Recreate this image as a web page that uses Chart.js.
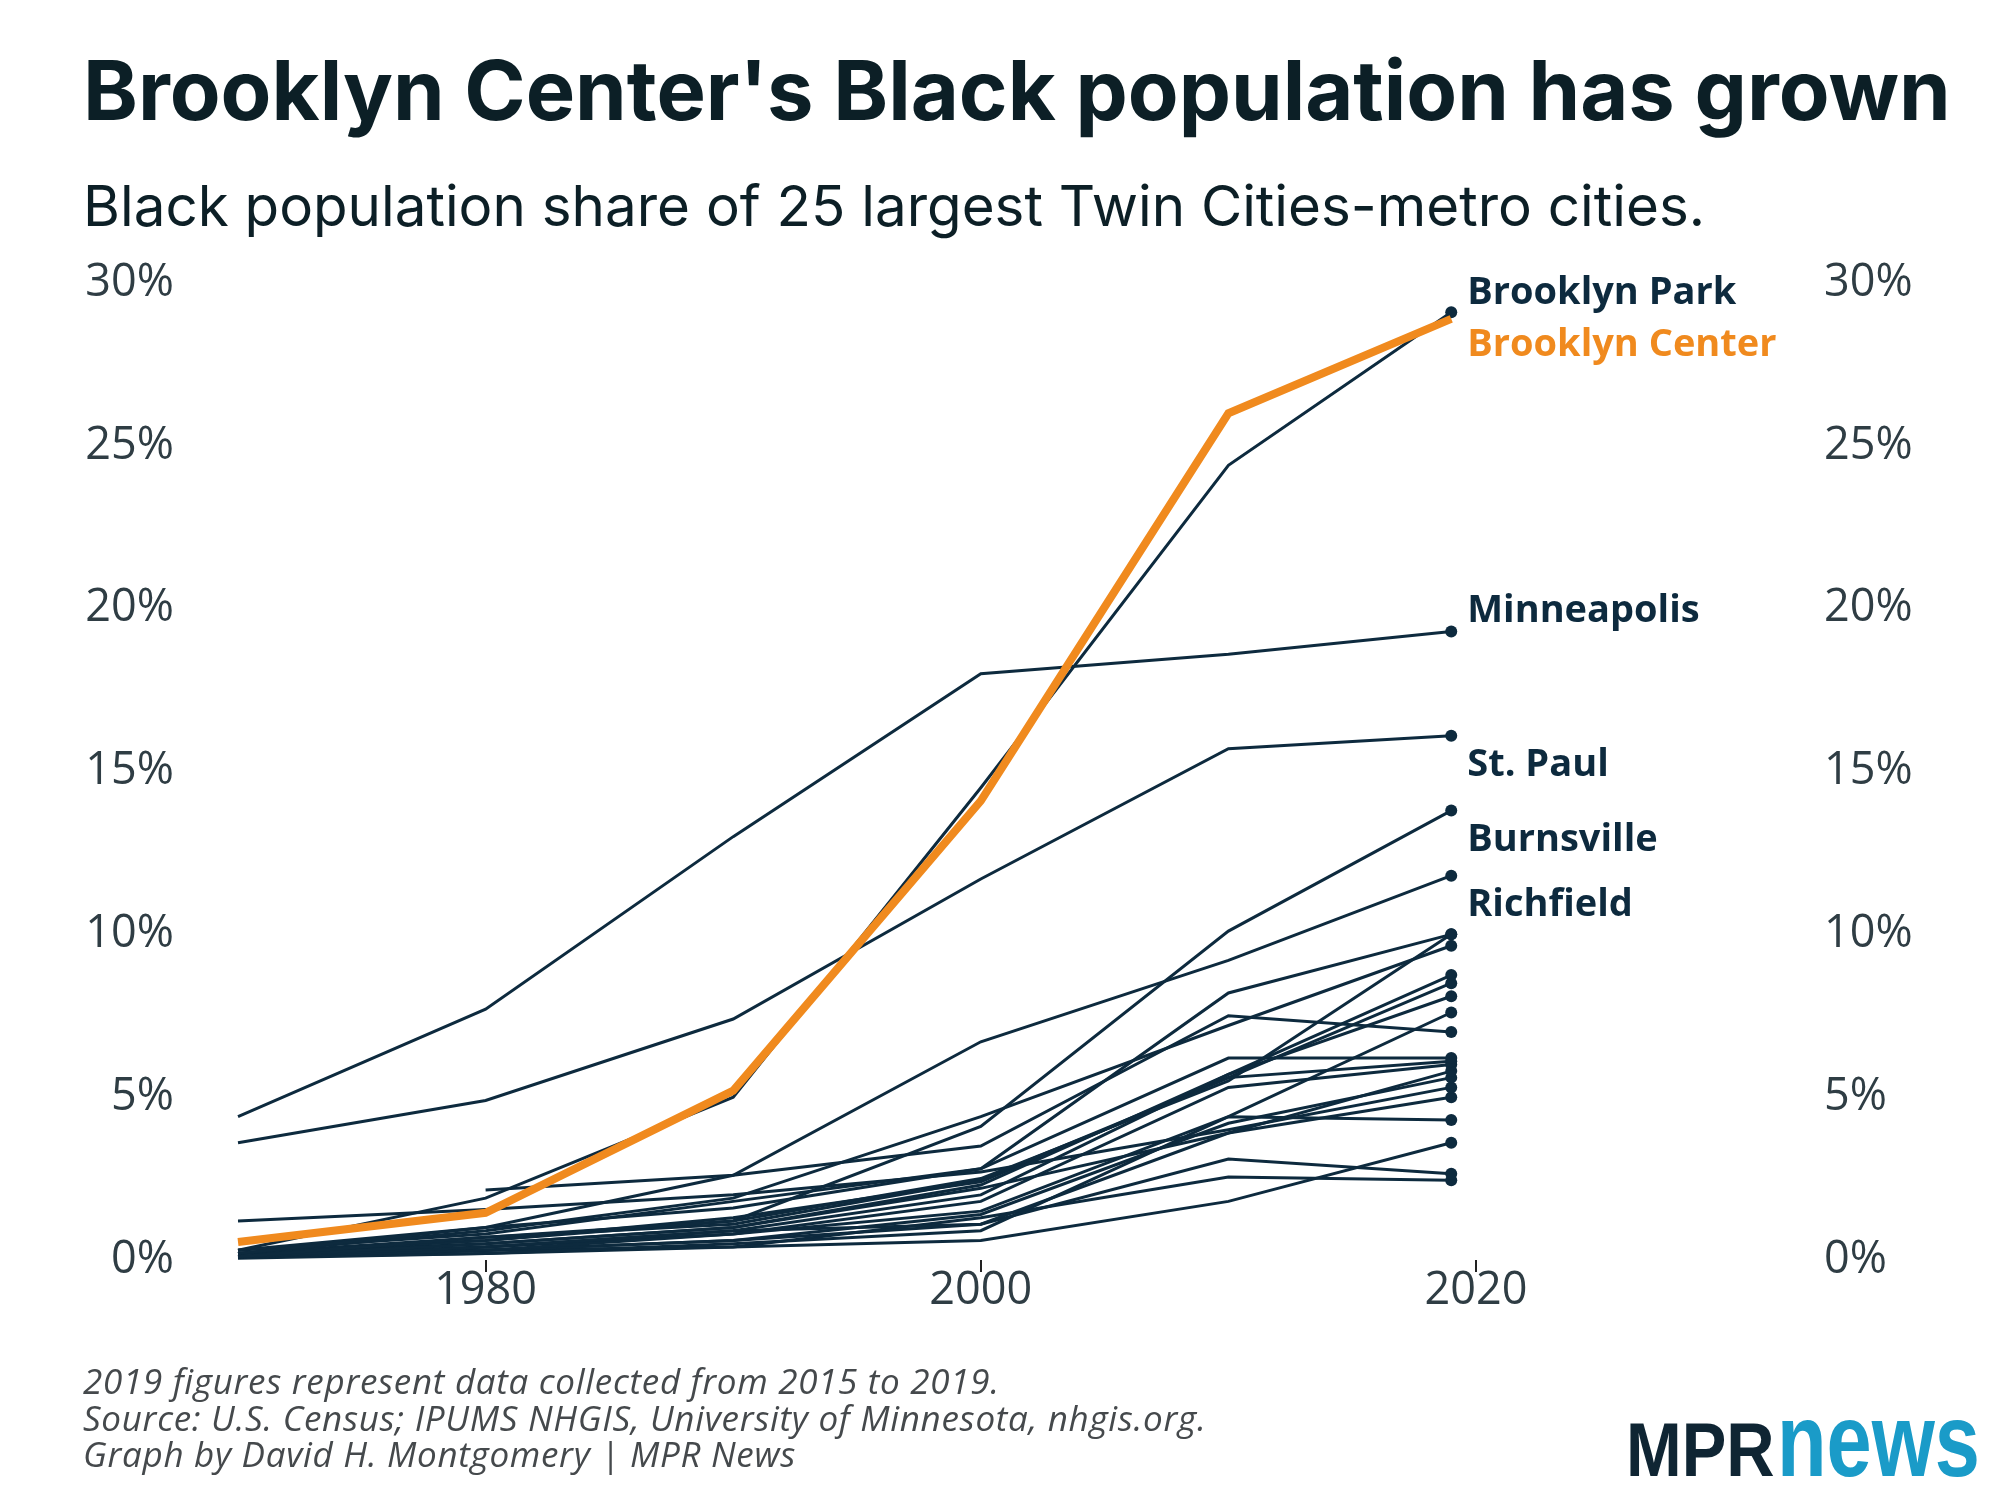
<!DOCTYPE html>
<html>
<head>
<meta charset="utf-8">
<script src="https://cdn.jsdelivr.net/npm/chart.js@4"></script>
<style>
  body { margin: 0; background: #fff; }
  #wrap { position: relative; width: 2000px; height: 1500px; overflow: hidden; }
  #graph { position: absolute; left: 0; top: 0; }
  .txt { position: absolute; white-space: nowrap; line-height: 1; }
  #title { left: 83px; top: 40px; font: 700 83px Inter; color: #0c1f26; }
  #subtitle { left: 83px; top: 171px; font: 400 56.5px Inter; color: #0c1f26; }
  #notes { left: 83px; top: 1363px; font: italic 400 35px "Open Sans"; letter-spacing: 0.7px; color: #45494c; line-height: 36.5px; }
  .logo { font-family: "Liberation Sans"; font-weight: 700; transform-origin: left top; }
  #mpr { left: 1626px; top: 1412px; font-size: 76px; color: #0f2533; transform: scaleX(0.88); }
  #news { left: 1777px; top: 1388px; font-size: 104px; color: #1a9bc8; transform: scaleX(0.78); }
</style>
</head>
<body>
<div id="wrap">
  <canvas id="graph" width="2000" height="1500"></canvas>
  <div class="txt" id="title">Brooklyn Center's Black population has grown</div>
  <div class="txt" id="subtitle">Black population share of 25 largest Twin Cities-metro cities.</div>
  <div class="txt" id="notes">2019 figures represent data collected from 2015 to 2019.<br>Source: U.S. Census; IPUMS NHGIS, University of Minnesota, nhgis.org.<br>Graph by David H. Montgomery | MPR News</div>
  <div class="txt logo" id="mpr">MPR</div>
  <div class="txt logo" id="news">news</div>
</div>
<script>
/* data: Black population share (%) by census year */
var years = [1970, 1980, 1990, 2000, 2010, 2019];

var brooklynCenter = [0.55, 1.45, 5.2, 14.1, 26.0, 28.9];
var brooklynPark   = [0.3, 1.9, 5.0, 14.5, 24.4, 29.1];
var minneapolis    = [4.4, 7.7, 13.0, 18.0, 18.6, 19.3];
var stPaul         = [3.6, 4.9, 7.4, 11.7, 15.7, 16.1];
var burnsville     = [0.1, 0.7, 1.2, 4.1, 10.1, 13.8];
var richfield      = [0.2, 1.0, 2.6, 6.7, 9.2, 11.8];

// the other 19 cities, not labelled in the graphic
var otherCities = [
    [0.2, 0.9, 1.9, 4.4, 7.2, 9.65],
    [0.3, 1.0, 1.6, 2.8, 8.2, 10.0],
    [0.2, 0.6, 1.2, 2.5, 5.5, 10.0],
    [0.1, 0.5, 1.0, 2.3, 5.7, 8.75],
    [0.2, 0.7, 1.1, 2.45, 5.6, 8.5],
    [0.1, 0.4, 0.9, 2.0, 5.7, 8.1],
    [0.1, 0.3, 0.8, 1.5, 4.4, 7.6],
    [null, 2.15, 2.6, 3.5, 7.5, 7.0],
    [0.3, 0.8, 1.8, 2.8, 6.2, 6.2],
    [0.2, 0.6, 1.3, 2.4, 5.6, 6.1],
    [0.1, 0.4, 0.8, 1.8, 5.3, 6.0],
    [0.2, 0.5, 1.0, 2.2, 3.9, 5.8],
    [0.1, 0.3, 0.6, 1.4, 4.2, 5.6],
    [1.2, 1.55, 2.0, 2.7, 4.0, 5.3],
    [0.1, 0.4, 0.9, 1.1, 3.9, 5.0],
    [0.05, 0.2, 0.5, 0.9, 4.4, 4.3],
    [0.1, 0.3, 0.4, 0.6, 1.8, 3.6],
    [0.1, 0.3, 0.6, 1.1, 3.1, 2.65],
    [0.1, 0.2, 0.4, 1.3, 2.55, 2.45]
];

var xTicks = [1980, 2000, 2020];
var yTicks = [0, 5, 10, 15, 20, 25, 30];

var NAVY = '#0d2a3e';
var ORANGE = '#f08a1e';
var TICKCOL = '#2f3d44';

function points(vals) {
    return years.map(function (yr, i) { return { x: yr, y: vals[i] }; });
}

function navyLine(label, vals) {
    return {
        label: label,
        data: points(vals),
        borderColor: NAVY,
        backgroundColor: NAVY,
        borderWidth: 3,
        pointRadius: function (c) { return c.dataIndex === years.length - 1 ? 6 : 0; },
        pointBorderWidth: 0,
        tension: 0,
        clip: false
    };
}

var datasets = [{
    label: 'Brooklyn Center',
    data: points(brooklynCenter),
    borderColor: ORANGE,
    borderWidth: 8,
    pointRadius: 0,
    tension: 0,
    clip: false
}];
datasets.push(navyLine('Brooklyn Park', brooklynPark));
datasets.push(navyLine('Minneapolis', minneapolis));
datasets.push(navyLine('St. Paul', stPaul));
datasets.push(navyLine('Burnsville', burnsville));
datasets.push(navyLine('Richfield', richfield));
otherCities.forEach(function (vals, i) {
    datasets.push(navyLine('Other city ' + (i + 1), vals));
});

// labels next to the 2019 end points
var cityLabels = [
    { text: 'Brooklyn Park', vals: brooklynPark, dy: -19, color: NAVY },
    { text: 'Brooklyn Center', vals: brooklynCenter, dy: 26, color: ORANGE },
    { text: 'Minneapolis', vals: minneapolis, dy: -20, color: NAVY },
    { text: 'St. Paul', vals: stPaul, dy: 29, color: NAVY },
    { text: 'Burnsville', vals: burnsville, dy: 30, color: NAVY },
    { text: 'Richfield', vals: richfield, dy: 29, color: NAVY }
];

var endLabels = {
    id: 'endLabels',
    afterDatasetsDraw: function (chart) {
        var ctx = chart.ctx, x = chart.scales.x, y = chart.scales.y;
        var last = years.length - 1;
        ctx.save();
        ctx.font = '700 38px "Open Sans"';
        ctx.textBaseline = 'middle';
        ctx.textAlign = 'left';
        cityLabels.forEach(function (l) {
            ctx.fillStyle = l.color;
            ctx.fillText(l.text, x.getPixelForValue(years[last]) + 16, y.getPixelForValue(l.vals[last]) + l.dy);
        });
        ctx.restore();
    }
};

var tickFont = { family: 'Open Sans', size: 45 };
function pct(v) { return v + '%'; }
function setTicks(list) {
    return function (s) { s.ticks = list.map(function (v) { return { value: v }; }); };
}
// invisible tick marks are used as the gap between axis labels and plot
function gapGrid(len) {
    return { display: true, drawOnChartArea: false, drawTicks: true, tickLength: len, color: 'rgba(0,0,0,0)' };
}

var graph = document.getElementById('graph').getContext('2d');
var myChart = new Chart(graph, {
    type: 'line',
    data: { datasets: datasets },
    options: {
        responsive: false,
        animation: false,
        devicePixelRatio: 1,
        layout: { padding: { top: 283, left: 0, right: 0, bottom: 0 } },
        plugins: { legend: { display: false }, tooltip: { enabled: false } },
        scales: {
            x: {
                type: 'linear',
                min: 1970,
                max: 2020,
                afterBuildTicks: setTicks(xTicks),
                afterFit: function (s) { s.height = 240; },
                grid: { drawOnChartArea: false, drawTicks: true, tickLength: 12, color: '#222', lineWidth: 2 },
                border: { display: false },
                ticks: { color: TICKCOL, font: tickFont, padding: -8, maxRotation: 0, callback: function (v) { return String(v); } }
            },
            y: {
                position: 'left',
                min: 0,
                max: 30,
                afterBuildTicks: setTicks(yTicks),
                afterFit: function (s) { s.width = 238; },
                grid: gapGrid(64),
                border: { display: false },
                ticks: { color: TICKCOL, font: tickFont, padding: 0, callback: pct }
            },
            y2: {
                position: 'right',
                min: 0,
                max: 30,
                afterBuildTicks: setTicks(yTicks),
                afterFit: function (s) { s.width = 524; },
                grid: gapGrid(348),
                border: { display: false },
                ticks: { color: TICKCOL, font: tickFont, padding: 0, callback: pct }
            }
        }
    },
    plugins: [endLabels]
});
</script>
</body>
</html>
